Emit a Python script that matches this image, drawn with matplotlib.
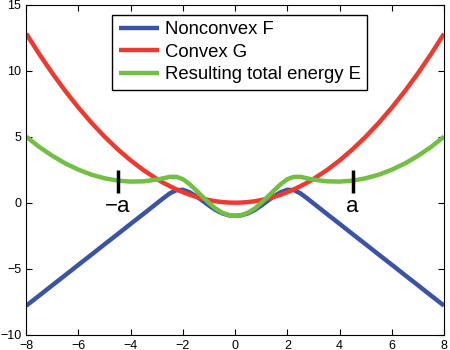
import matplotlib
matplotlib.use("Agg")
import matplotlib.pyplot as plt

plt.rcParams['font.family'] = ['Liberation Sans', 'DejaVu Sans']

x = [-8, -7.5, -7, -6.5, -6, -5.5, -5, -4.5, -4, -3.5,
     -3, -2.75, -2.5, -2.25, -2, -1.75, -1.5, -1.25, -1, -0.75, -0.5, -0.25,
     0, 0.25, 0.5, 0.75, 1, 1.25, 1.5, 1.75, 2, 2.25, 2.5, 2.75, 3,
     3.5, 4, 4.5, 5, 5.5, 6, 6.5, 7, 7.5, 8]

F = [-7.8, -7.03, -6.25, -5.48, -4.7, -3.93, -3.15, -2.38, -1.6, -0.83,
     -0.05, 0.34, 0.71, 0.95, 0.98, 0.8, 0.5, 0.15, -0.22, -0.55, -0.8, -0.95,
     -1.0, -0.95, -0.8, -0.55, -0.22, 0.15, 0.5, 0.8, 0.98, 0.95, 0.71, 0.34, -0.05,
     -0.83, -1.6, -2.38, -3.15, -3.93, -4.7, -5.48, -6.25, -7.03, -7.8]

G = [12.8, 11.25, 9.8, 8.45, 7.2, 6.05, 5.0, 4.05, 3.2, 2.45,
     1.8, 1.51, 1.25, 1.01, 0.8, 0.61, 0.45, 0.31, 0.2, 0.11, 0.05, 0.01,
     0.0, 0.01, 0.05, 0.11, 0.2, 0.31, 0.45, 0.61, 0.8, 1.01, 1.25, 1.51, 1.8,
     2.45, 3.2, 4.05, 5.0, 6.05, 7.2, 8.45, 9.8, 11.25, 12.8]

E = [5.0, 4.22, 3.55, 2.97, 2.5, 2.12, 1.85, 1.67, 1.6, 1.62,
     1.75, 1.85, 1.96, 1.96, 1.78, 1.41, 0.95, 0.46, -0.02, -0.44, -0.75, -0.94,
     -1.0, -0.94, -0.75, -0.44, -0.02, 0.46, 0.95, 1.41, 1.78, 1.96, 1.96, 1.85, 1.75,
     1.62, 1.6, 1.67, 1.85, 2.12, 2.5, 2.97, 3.55, 4.22, 5.0]

labels = ['Nonconvex F', 'Convex G', 'Resulting total energy E']
colors = ['#3b53a4', '#ee3a2e', '#72bf44']

a_pos = [-4.5, 4.5]
a_text = ['\u2212a', 'a']
a_bar = [0.7, 2.5]

fig = plt.figure(figsize=(4.5, 3.5), dpi=100)
ax = fig.add_axes([0.0584, 0.0437, 0.9283, 0.9429])

for ys, lab, c in zip([F, G, E], labels, colors):
    ax.plot(x, ys, color=c, lw=3.2, label=lab, solid_capstyle='butt')

for xp, t in zip(a_pos, a_text):
    ax.plot([xp, xp], a_bar, color='black', lw=2.5, solid_capstyle='butt')
    ax.text(xp, -0.3, t, fontsize=16, ha='center', va='center')

ax.set_xlim(-8, 8)
ax.set_ylim(-10, 15)
ax.set_xticks(range(-8, 9, 2))
ax.set_yticks(range(-10, 16, 5))
ax.tick_params(direction='in', top=True, right=True, labelsize=9, length=4, width=0.8)
for s in ax.spines.values():
    s.set_linewidth(0.8)

ax.legend(loc='upper left', bbox_to_anchor=(0.206, 0.969), borderaxespad=0,
          fancybox=False, edgecolor='black', framealpha=1, fontsize=13.3,
          handlelength=2.2, handletextpad=0.3, borderpad=0.35, labelspacing=0.3)

fig.savefig('out.png', dpi=100)
